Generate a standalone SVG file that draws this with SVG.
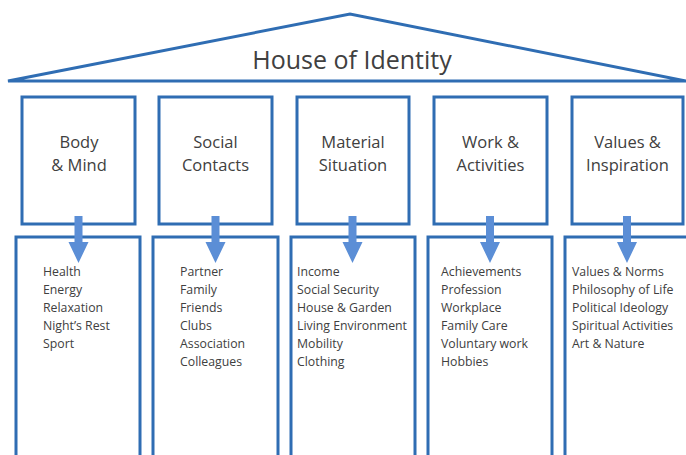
<svg xmlns="http://www.w3.org/2000/svg" width="686" height="455" viewBox="0 0 686 455">
<style>
.box{fill:#fff;stroke:#2f6db3;stroke-width:3}
.roof{fill:#fff;stroke:#2f6db3;stroke-width:3;stroke-linejoin:miter}
.title{font-family:"Open Sans","Liberation Sans",sans-serif;font-size:25px;fill:#404040;text-anchor:middle}
.head{font-family:"Open Sans","Liberation Sans",sans-serif;font-size:16.5px;fill:#404040;text-anchor:middle}
.item{font-family:"Open Sans","Liberation Sans",sans-serif;font-size:12.3px;fill:#404040}
.arrow{fill:#5b8ed6}
</style>
<rect width="686" height="455" fill="#fff"/>
<g id="roof">
<polygon class="roof" points="8,81 350,14 686,81"/>
<text class="title" x="352" y="69">House of Identity</text>
</g>
<g id="node-body">
<rect class="box" x="22" y="97" width="113" height="127"/>
<text class="head" x="79" y="148">Body</text>
<text class="head" x="79" y="171">&amp; Mind</text>
</g>
<g id="node-social">
<rect class="box" x="159" y="97" width="113" height="127"/>
<text class="head" x="215.5" y="148">Social</text>
<text class="head" x="215.5" y="171">Contacts</text>
</g>
<g id="node-material">
<rect class="box" x="297" y="97" width="112" height="127"/>
<text class="head" x="353" y="148">Material</text>
<text class="head" x="353" y="171">Situation</text>
</g>
<g id="node-work">
<rect class="box" x="434" y="97" width="113" height="127"/>
<text class="head" x="490.5" y="148">Work &amp;</text>
<text class="head" x="490.5" y="171">Activities</text>
</g>
<g id="node-values">
<rect class="box" x="572" y="97" width="111" height="127"/>
<text class="head" x="627.5" y="148">Values &amp;</text>
<text class="head" x="627.5" y="171">Inspiration</text>
</g>
<g id="list-body">
<rect class="box" x="16" y="237" width="124" height="230"/>
<text class="item" x="43" y="276">Health</text>
<text class="item" x="43" y="294">Energy</text>
<text class="item" x="43" y="312">Relaxation</text>
<text class="item" x="43" y="330">Night’s Rest</text>
<text class="item" x="43" y="348">Sport</text>
</g>
<g id="list-social">
<rect class="box" x="153" y="237" width="125" height="230"/>
<text class="item" x="180" y="276">Partner</text>
<text class="item" x="180" y="294">Family</text>
<text class="item" x="180" y="312">Friends</text>
<text class="item" x="180" y="330">Clubs</text>
<text class="item" x="180" y="348">Association</text>
<text class="item" x="180" y="366">Colleagues</text>
</g>
<g id="list-material">
<rect class="box" x="291" y="237" width="124" height="230"/>
<text class="item" x="297" y="276">Income</text>
<text class="item" x="297" y="294">Social Security</text>
<text class="item" x="297" y="312">House &amp; Garden</text>
<text class="item" x="297" y="330">Living Environment</text>
<text class="item" x="297" y="348">Mobility</text>
<text class="item" x="297" y="366">Clothing</text>
</g>
<g id="list-work">
<rect class="box" x="428" y="237" width="124" height="230"/>
<text class="item" x="441" y="276">Achievements</text>
<text class="item" x="441" y="294">Profession</text>
<text class="item" x="441" y="312">Workplace</text>
<text class="item" x="441" y="330">Family Care</text>
<text class="item" x="441" y="348">Voluntary work</text>
<text class="item" x="441" y="366">Hobbies</text>
</g>
<g id="list-values">
<rect class="box" x="565" y="237" width="130" height="230"/>
<text class="item" x="572" y="276">Values &amp; Norms</text>
<text class="item" x="572" y="294">Philosophy of Life</text>
<text class="item" x="572" y="312">Political Ideology</text>
<text class="item" x="572" y="330">Spiritual Activities</text>
<text class="item" x="572" y="348">Art &amp; Nature</text>
</g>
<g id="connectors">
<defs>
<path id="arr" d="M-4,0 H4 V26 H10 L0,47 L-10,26 H-4 Z"/>
</defs>
<use href="#arr" class="arrow" x="78.5" y="216"/>
<use href="#arr" class="arrow" x="215.5" y="216"/>
<use href="#arr" class="arrow" x="352.5" y="216"/>
<use href="#arr" class="arrow" x="490" y="216"/>
<use href="#arr" class="arrow" x="627" y="216"/>
</g>
</svg>
